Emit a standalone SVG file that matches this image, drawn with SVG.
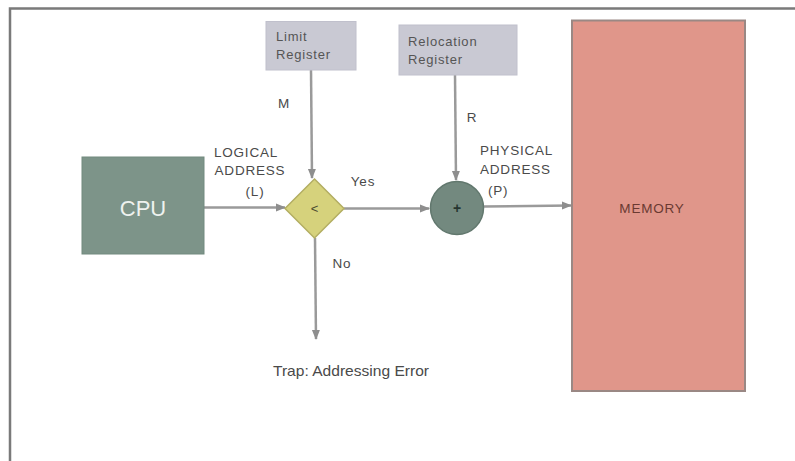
<svg xmlns="http://www.w3.org/2000/svg" width="795" height="461" viewBox="0 0 795 461">
<style>
  text { font-family: "Liberation Sans", Arial, sans-serif; fill: #4a4a4a; }
  .lbl { font-size: 13.5px; letter-spacing: 0.8px; }
  .reg { fill: #c9c9d3; stroke: #c0c0cc; stroke-width: 1; }
  .regtxt { font-size: 13px; fill: #555; letter-spacing: 0.8px; }
  .conn { stroke: #9a9a9a; stroke-width: 2.5; fill: none; marker-end: url(#arr); }
</style>
<defs>
  <marker id="arr" viewBox="0 0 10 10" refX="9" refY="5" markerWidth="4" markerHeight="4" orient="auto" markerUnits="strokeWidth">
    <path d="M0,1 L10,5 L0,9 z" fill="#8e8e8e"/>
  </marker>
</defs>
<rect width="795" height="461" fill="#ffffff"/>
<path d="M10,475 L10,8.5 L800,8.5" fill="none" stroke="#7a7a7a" stroke-width="2.5"/>

<g id="connectors">
  <line class="conn" x1="204" y1="207.5" x2="285" y2="207.5"/>
  <line class="conn" x1="311" y1="70" x2="312" y2="178"/>
  <line class="conn" x1="344" y1="208.5" x2="429" y2="208.5"/>
  <line class="conn" x1="455" y1="75" x2="456" y2="180"/>
  <line class="conn" x1="484" y1="206.5" x2="571" y2="205.5"/>
  <line class="conn" x1="315" y1="238" x2="316" y2="339"/>
</g>

<g id="cpu">
  <rect x="82" y="157" width="122" height="97" fill="#7d9489" stroke="#728a7e" stroke-width="1"/>
  <text x="143" y="215.5" text-anchor="middle" font-size="22" style="fill:#eef2ef">CPU</text>
</g>

<g id="limit-register">
  <rect class="reg" x="266" y="21.5" width="90" height="48.5"/>
  <text class="regtxt" x="276" y="41">Limit</text>
  <text class="regtxt" x="276" y="59">Register</text>
</g>

<g id="relocation-register">
  <rect class="reg" x="399" y="25" width="118" height="50"/>
  <text class="regtxt" x="408" y="46">Relocation</text>
  <text class="regtxt" x="408" y="64">Register</text>
</g>

<g id="compare">
  <polygon points="314.5,179 344,208.5 314.5,238 285,208.5" fill="#d6d27c" stroke="#b3ae62" stroke-width="1.5"/>
  <text x="314.5" y="213" text-anchor="middle" font-size="13" style="fill:#4a4a30">&lt;</text>
</g>

<g id="adder">
  <circle cx="457" cy="208" r="26.5" fill="#73897f" stroke="#62786e" stroke-width="1.5"/>
  <text x="457" y="213" text-anchor="middle" font-size="14" font-weight="bold" style="fill:#263530">+</text>
</g>

<g id="memory">
  <rect x="572" y="20.5" width="173" height="370.5" fill="#e0968a" stroke="#9a8884" stroke-width="2"/>
  <text x="652" y="213" text-anchor="middle" font-size="13.5" letter-spacing="0.8" style="fill:#6a3a32">MEMORY</text>
</g>

<g id="labels">
  <text class="lbl" x="284" y="108" text-anchor="middle">M</text>
  <text class="lbl" x="472" y="122" text-anchor="middle">R</text>
  <text class="lbl" x="246" y="157" text-anchor="middle">LOGICAL</text>
  <text class="lbl" x="250" y="175" text-anchor="middle">ADDRESS</text>
  <text class="lbl" x="255" y="196" text-anchor="middle">(L)</text>
  <text class="lbl" x="363" y="186" text-anchor="middle">Yes</text>
  <text class="lbl" x="342" y="268" text-anchor="middle">No</text>
  <text class="lbl" x="480" y="155">PHYSICAL</text>
  <text class="lbl" x="480" y="174">ADDRESS</text>
  <text class="lbl" x="488" y="195">(P)</text>
  <text x="351" y="376" text-anchor="middle" font-size="14.5" textLength="156" lengthAdjust="spacingAndGlyphs">Trap: Addressing Error</text>
</g>
</svg>
